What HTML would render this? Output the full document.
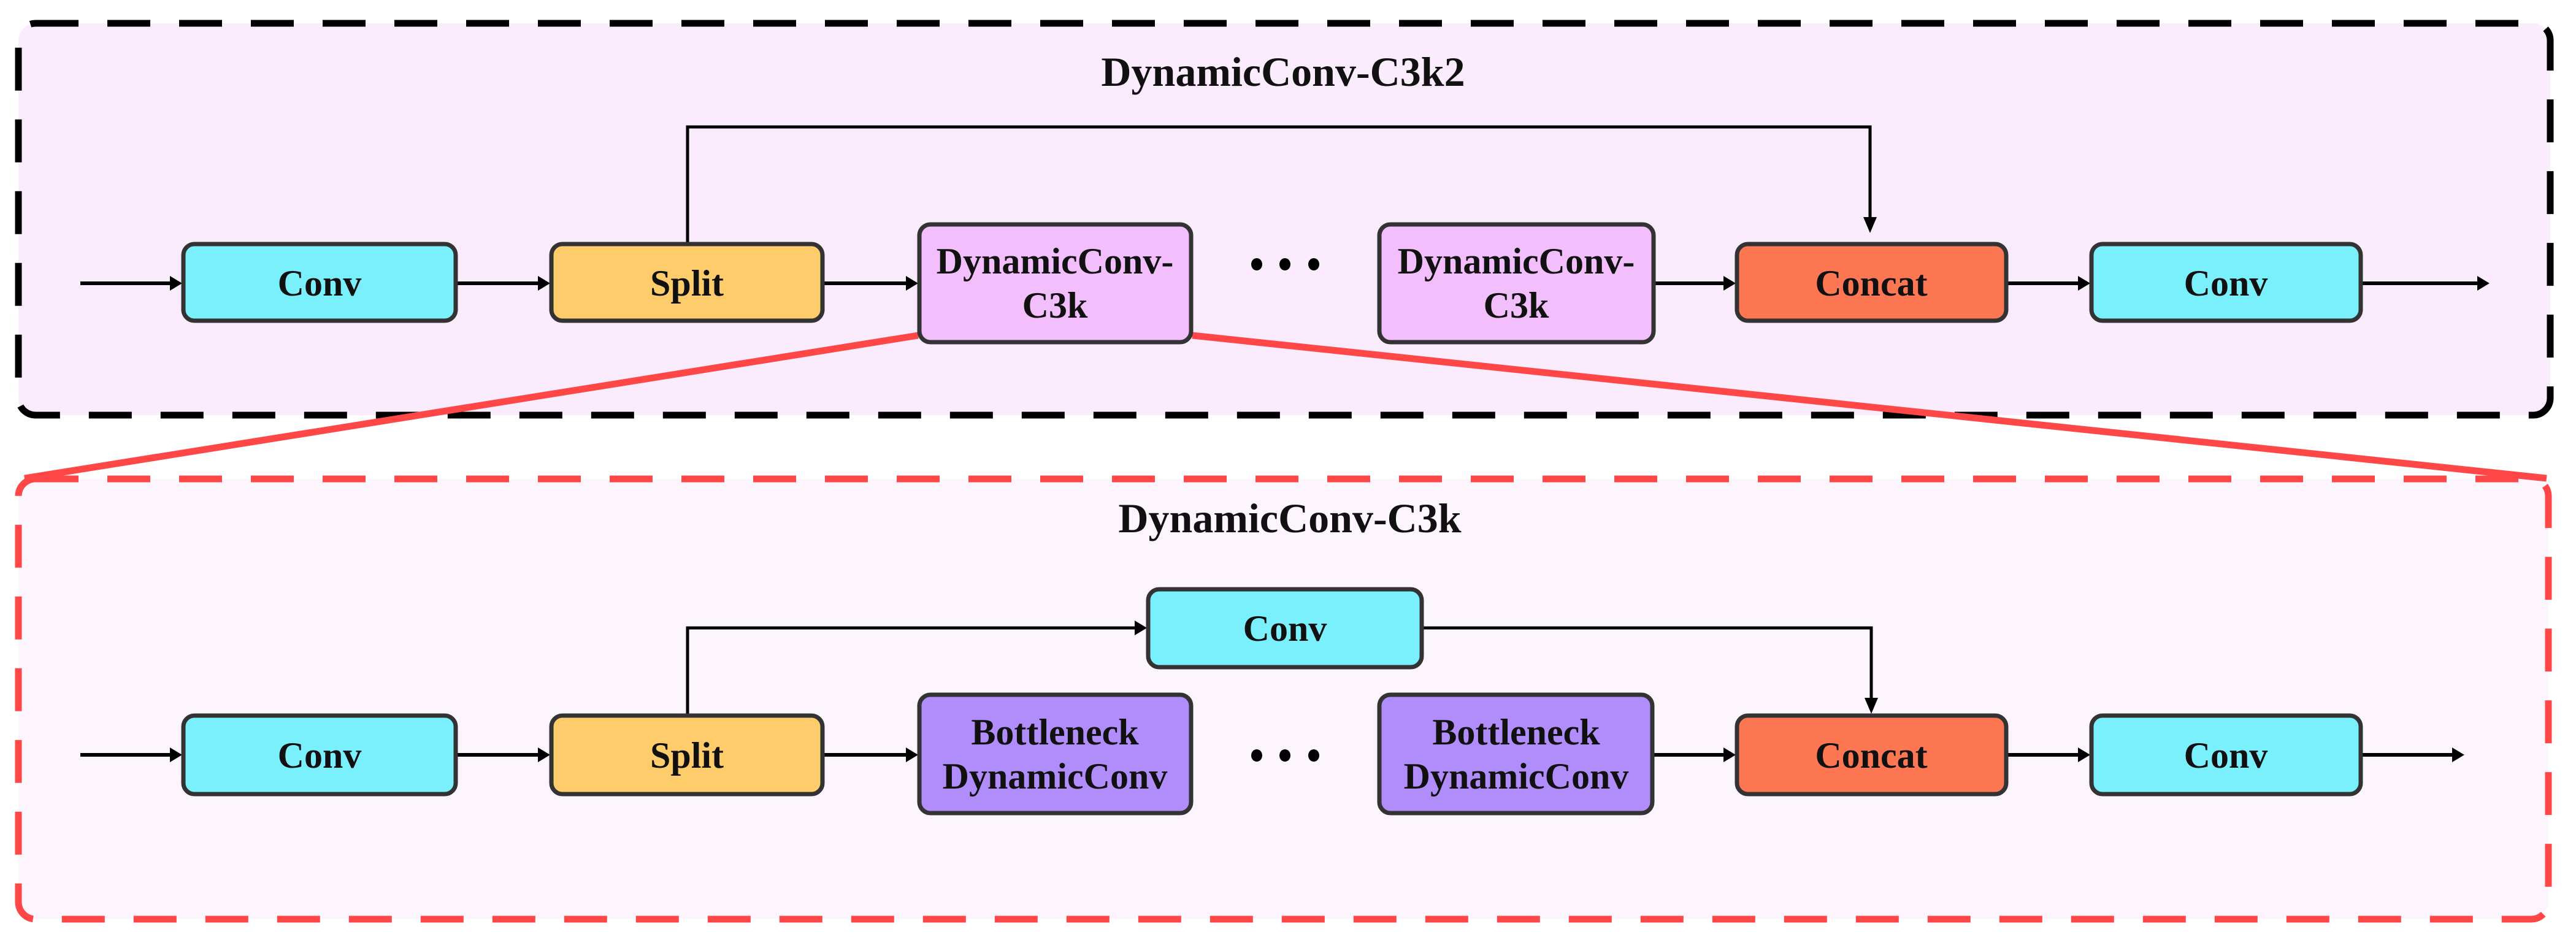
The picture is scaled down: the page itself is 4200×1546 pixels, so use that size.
<!DOCTYPE html>
<html><head><meta charset="utf-8"><style>
html,body{margin:0;padding:0;background:#fff}
svg{display:block}
svg text{font-family:"Liberation Serif","Times New Roman","DejaVu Serif",serif;font-weight:bold;fill:#111;text-anchor:middle}
</style></head><body>
<svg width="4200" height="1546" viewBox="0 0 4200 1546" xmlns="http://www.w3.org/2000/svg" font-family="Liberation Serif, Times New Roman, serif">
<rect x="30" y="38" width="4128" height="639" rx="28" fill="#fbecfd" stroke="#000" stroke-width="11" stroke-dasharray="70 47"/>
<rect x="30" y="781" width="4125" height="718" rx="28" fill="#fdf5fd" stroke="#ff4747" stroke-width="11" stroke-dasharray="70 47"/>
<line x1="1497" y1="547" x2="40" y2="780" stroke="#ff4747" stroke-width="11"/>
<line x1="1944" y1="547" x2="4152" y2="780" stroke="#ff4747" stroke-width="11"/>

<text x="2092" y="140" font-size="68" font-family="Liberation Serif, serif">DynamicConv-C3k2</text>
<text x="2103" y="868" font-size="68" font-family="Liberation Serif, serif">DynamicConv-C3k</text>

<g stroke="#000" fill="none">
<line x1="131" y1="462" x2="280" y2="462" stroke-width="6"/>
<line x1="745" y1="462" x2="880" y2="462" stroke-width="6"/>
<line x1="1343" y1="462" x2="1480" y2="462" stroke-width="6"/>
<line x1="2698" y1="462" x2="2812" y2="462" stroke-width="6"/>
<line x1="3273" y1="462" x2="3391" y2="462" stroke-width="6"/>
<line x1="3851" y1="462" x2="4042" y2="462" stroke-width="6"/>
<polyline points="1121,396 1121,207 3049,207 3049,362" stroke-width="5"/>
<line x1="131" y1="1231" x2="280" y2="1231" stroke-width="6"/>
<line x1="745" y1="1231" x2="880" y2="1231" stroke-width="6"/>
<line x1="1343" y1="1231" x2="1480" y2="1231" stroke-width="6"/>
<line x1="2696" y1="1231" x2="2812" y2="1231" stroke-width="6"/>
<line x1="3273" y1="1231" x2="3391" y2="1231" stroke-width="6"/>
<line x1="3851" y1="1231" x2="4000" y2="1231" stroke-width="6"/>
<polyline points="1121,1165 1121,1024 1852,1024" stroke-width="5"/>
<polyline points="2320,1024 3051,1024 3051,1148" stroke-width="5"/>
</g>
<g fill="#000">
<polygon points="297,462 277,450 277,474"/>
<polygon points="897,462 877,450 877,474"/>
<polygon points="1497,462 1477,450 1477,474"/>
<polygon points="2830,462 2810,450 2810,474"/>
<polygon points="3408,462 3388,450 3388,474"/>
<polygon points="4059,462 4039,450 4039,474"/>
<polygon points="3049,380 3038,354 3060,354"/>
<polygon points="297,1231 277,1219 277,1243"/>
<polygon points="897,1231 877,1219 877,1243"/>
<polygon points="1497,1231 1477,1219 1477,1243"/>
<polygon points="2830,1231 2810,1219 2810,1243"/>
<polygon points="3408,1231 3388,1219 3388,1243"/>
<polygon points="4018,1231 3998,1219 3998,1243"/>
<polygon points="1870,1024 1850,1012 1850,1036"/>
<polygon points="3051,1164 3040,1138 3062,1138"/>
<ellipse cx="2049" cy="431" rx="9" ry="10"/><ellipse cx="2095" cy="431" rx="9" ry="10"/><ellipse cx="2142" cy="431" rx="9" ry="10"/>
<ellipse cx="2049" cy="1232" rx="9" ry="10"/><ellipse cx="2095" cy="1232" rx="9" ry="10"/><ellipse cx="2142" cy="1232" rx="9" ry="10"/>
</g>

<g stroke="#333" stroke-width="7">
<rect x="299" y="398" width="444" height="125" rx="18" fill="#7bf0fd"/>
<rect x="899" y="398" width="442" height="125" rx="18" fill="#fecc6b"/>
<rect x="1499" y="366" width="443" height="192" rx="18" fill="#f2befc"/>
<rect x="2249" y="366" width="447" height="192" rx="18" fill="#f2befc"/>
<rect x="2832" y="398" width="439" height="125" rx="18" fill="#fe7753"/>
<rect x="3410" y="398" width="439" height="125" rx="18" fill="#7bf0fd"/>
<rect x="299" y="1167" width="444" height="128" rx="18" fill="#7bf0fd"/>
<rect x="899" y="1167" width="442" height="128" rx="18" fill="#fecc6b"/>
<rect x="1499" y="1133" width="443" height="193" rx="18" fill="#b08dfa"/>
<rect x="2249" y="1133" width="445" height="193" rx="18" fill="#b08dfa"/>
<rect x="2832" y="1167" width="439" height="128" rx="18" fill="#fe7753"/>
<rect x="3410" y="1167" width="439" height="128" rx="18" fill="#7bf0fd"/>
<rect x="1872" y="961" width="446" height="127" rx="18" fill="#7bf0fd"/>
</g>

<g font-size="60" font-family="Liberation Serif, serif">
<text x="521" y="482">Conv</text>
<text x="1120" y="482">Split</text>
<text x="1720" y="446">DynamicConv-</text>
<text x="1720" y="518">C3k</text>
<text x="2472" y="446">DynamicConv-</text>
<text x="2472" y="518">C3k</text>
<text x="3051" y="482">Concat</text>
<text x="3629" y="482">Conv</text>
<text x="521" y="1252">Conv</text>
<text x="1120" y="1252">Split</text>
<text x="1720" y="1214">Bottleneck</text>
<text x="1720" y="1286">DynamicConv</text>
<text x="2472" y="1214">Bottleneck</text>
<text x="2472" y="1286">DynamicConv</text>
<text x="3051" y="1252">Concat</text>
<text x="3629" y="1252">Conv</text>
<text x="2095" y="1045">Conv</text>
</g>
</svg>
</body></html>
